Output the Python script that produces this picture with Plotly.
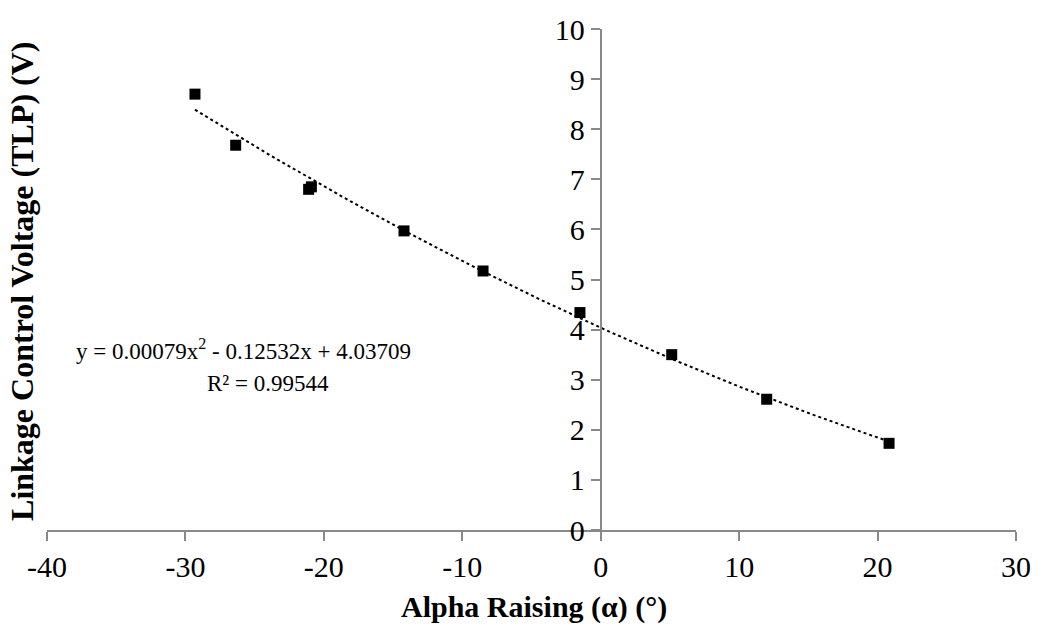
import plotly.graph_objects as go
import numpy as np

alpha = [-29.31, -26.37, -21.1, -20.9, -14.21, -8.50, -1.50, 5.13, 11.99, 20.83]
voltage = [8.70, 7.68, 6.80, 6.85, 5.97, 5.17, 4.34, 3.50, 2.61, 1.73]
fit_coef = [0.00079, -0.12532, 4.03709]  # a, b, c of trendline
eq_line = "y = 0.00079x<sup>2</sup> - 0.12532x + 4.03709"
r2_line = "R² = 0.99544"
x_ticks = [-40, -30, -20, -10, 0, 10, 20, 30]
x_ticklabels = ["-40", "-30", "-20", "-10", "0", "10", "20", "30"]
y_ticks = list(range(0, 11))

xf = np.linspace(min(alpha), max(alpha), 200)
yf = np.polyval(fit_coef, xf)

FONT = "Liberation Serif"
GRAY = "#898989"

fig = go.Figure()
fig.add_trace(go.Scatter(x=xf, y=yf, mode="lines",
                         line=dict(color="black", width=2, dash="dot"),
                         hoverinfo="skip", showlegend=False))
fig.add_trace(go.Scatter(x=alpha, y=voltage, mode="markers",
                         marker=dict(symbol="square", size=11, color="black"),
                         showlegend=False))

xr = [-40, 30]
W0, W1, H0, H1 = 47, 1016, 21, 530
fig.update_layout(
    width=1044, height=632,
    margin=dict(l=W0, r=1044 - W1, t=H0, b=632 - H1),
    plot_bgcolor="white", paper_bgcolor="white",
    font=dict(family=FONT, size=30, color="black"),
    xaxis=dict(range=xr, tickvals=x_ticks, ticktext=x_ticklabels,
               showgrid=False, zeroline=False,
               showline=True, linecolor=GRAY, linewidth=2,
               ticks="outside", ticklen=9, tickcolor=GRAY, tickwidth=2,
               tickfont=dict(family=FONT, size=30)),
    yaxis=dict(range=[0, 10], tickvals=y_ticks, showgrid=False, zeroline=False,
               anchor="free", position=(0 - xr[0]) / (xr[1] - xr[0]),
               showline=True, linecolor=GRAY, linewidth=2,
               ticks="outside", ticklen=9, tickcolor=GRAY, tickwidth=2,
               tickfont=dict(family=FONT, size=30)),
    annotations=[
        dict(text="<b>Alpha Raising (α) (°)</b>", xref="paper", yref="paper",
             x=(534 - W0) / (W1 - W0), y=0, yshift=-77, xanchor="center", yanchor="middle",
             showarrow=False, font=dict(family=FONT, size=30)),
        dict(text="<b>Linkage Control Voltage (TLP) (V)</b>", xref="paper", yref="paper",
             x=0, xshift=-25, y=(H1 - 278) / (H1 - H0), xanchor="center", yanchor="middle",
             textangle=-90, showarrow=False, font=dict(family=FONT, size=32)),
        dict(text=eq_line, xref="paper", yref="paper",
             x=(243 - W0) / (W1 - W0), y=(H1 - 347) / (H1 - H0),
             xanchor="center", yanchor="middle",
             showarrow=False, font=dict(family=FONT, size=23)),
        dict(text=r2_line, xref="paper", yref="paper",
             x=(268 - W0) / (W1 - W0), y=(H1 - 381) / (H1 - H0),
             xanchor="center", yanchor="middle",
             showarrow=False, font=dict(family=FONT, size=23)),
    ],
)
fig.write_html("out.html")
